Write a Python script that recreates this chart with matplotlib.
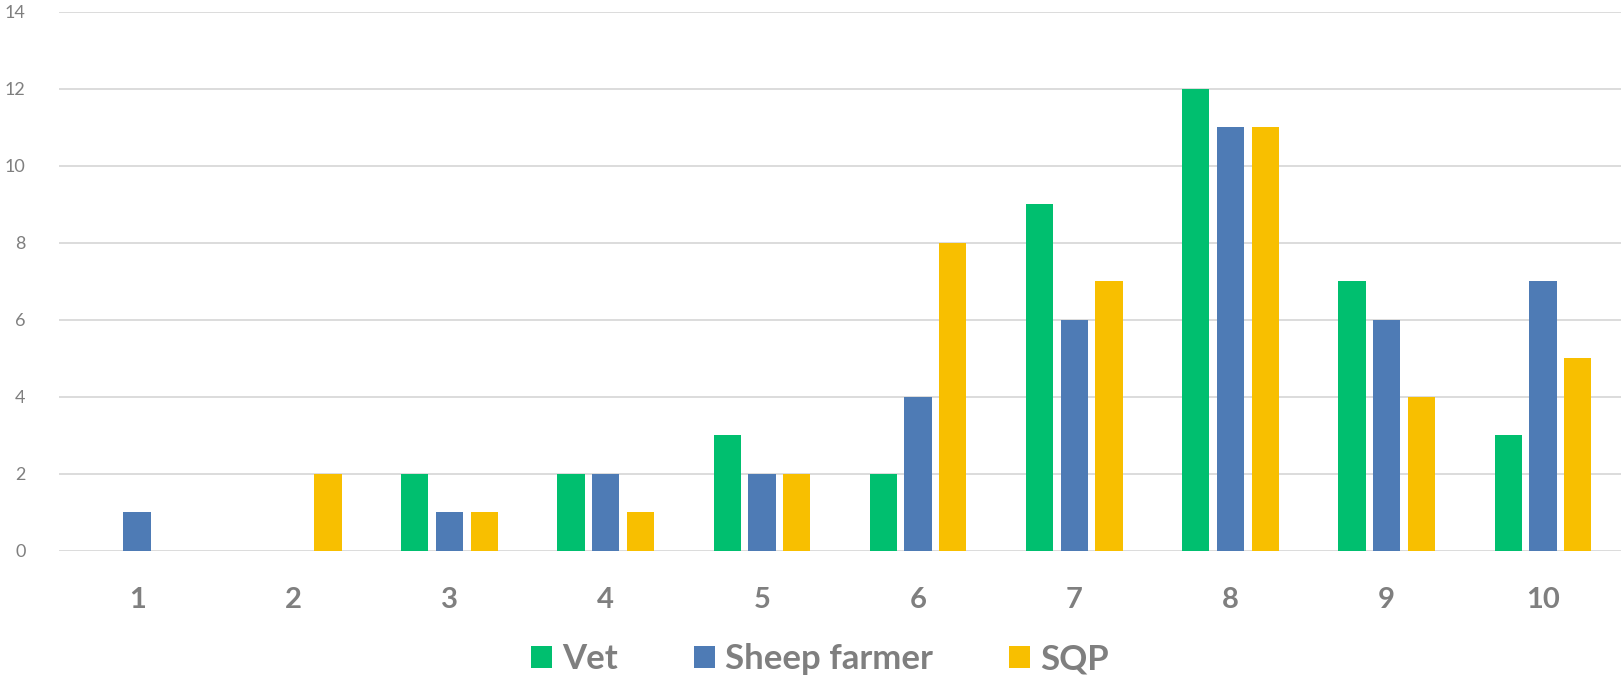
import numpy as np
import matplotlib.pyplot as plt

# Scores 1-10 and counts by respondent group
categorias = ["1", "2", "3", "4", "5", "6", "7", "8", "9", "10"]
vet = [0, 0, 2, 2, 3, 2, 9, 12, 7, 3]
sheep_farmer = [1, 0, 1, 2, 2, 4, 6, 11, 6, 7]
sqp = [0, 2, 1, 1, 2, 8, 7, 11, 4, 5]
series = ["Vet", "Sheep farmer", "SQP"]
y_ticks = [0, 2, 4, 6, 8, 10, 12, 14]

cores = ["#00BF6F", "#4E7BB5", "#F8BF00"]
cinza = "#7F7F7F"

plt.rcParams["font.family"] = ["Lato", "DejaVu Sans"]

fig = plt.figure(figsize=(16.22, 6.8), dpi=100)
ax = fig.add_axes([59 / 1622, 129.3 / 680, 1562 / 1622, 539 / 680])

x = np.arange(len(categorias))
passo = 0.222
largura = 0.175
for i, (valores, nome) in enumerate(zip([vet, sheep_farmer, sqp], series)):
    ax.bar(x + (i - 1) * passo, valores, largura, color=cores[i], label=nome, zorder=3)

ax.set_xlim(-0.5, len(categorias) - 0.5)
ax.set_ylim(0, 14)
ax.set_yticks(y_ticks)
ax.set_yticklabels([str(v) for v in y_ticks], fontsize=13, color=cinza)
ax.set_xticks(x)
ax.set_xticklabels(categorias, fontsize=21, fontweight="bold", color=cinza)
ax.tick_params(axis="y", length=0, pad=24)
ax.tick_params(axis="x", length=0, pad=26)
ax.grid(axis="y", color="#D9D9D9", linewidth=1.3, zorder=0)
for s in ax.spines.values():
    s.set_visible(False)

fig.legend(
    loc="center",
    bbox_to_anchor=(820 / 1622, 21 / 680),
    ncol=3,
    frameon=False,
    prop={"size": 25, "weight": "bold"},
    labelcolor=cinza,
    handlelength=0.6,
    handleheight=0.6,
    handletextpad=0.29,
    columnspacing=2.2,
)

fig.savefig("out.png", dpi=100)
